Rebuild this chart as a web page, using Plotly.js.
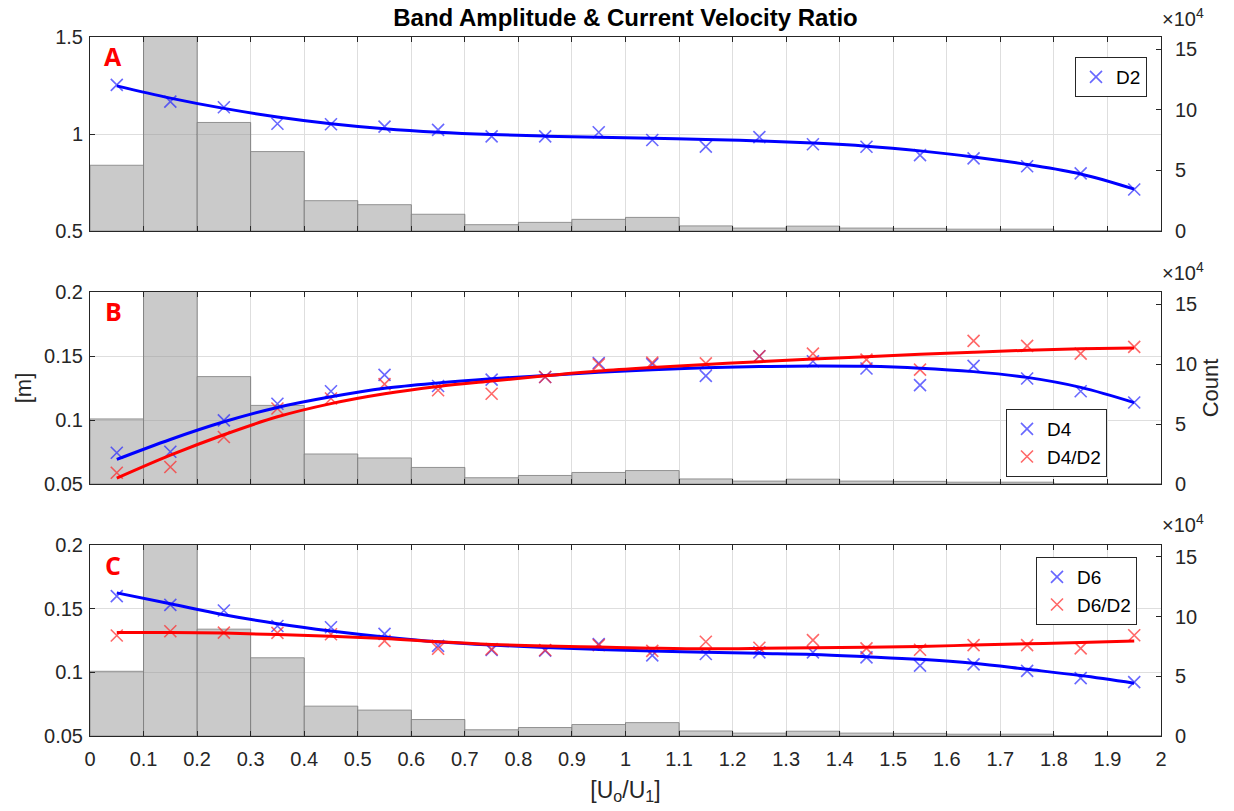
<!DOCTYPE html>
<html>
<head>
<meta charset="utf-8">
<script src="https://cdn.plot.ly/plotly-3.0.1.min.js"></script>
<style>html,body{margin:0;padding:0;background:#fff;}#chart{width:1234px;height:811px;}</style>
</head>
<body>
<div id="chart"></div>
<script>
// ---- data ----
const xCenters = [0.05,0.15,0.25,0.35,0.45,0.55,0.65,0.75,0.85,0.95,1.05,1.15,1.25,1.35,1.45,1.55,1.65,1.75,1.85,1.95];
const binCounts = [54200,190000,89500,65500,25000,21700,13800,5200,7100,9600,11200,4200,2400,4000,2400,2200,1500,1500,400,100];

const d2    = [1.253,1.167,1.138,1.053,1.050,1.038,1.021,0.988,0.988,1.009,0.969,0.935,0.984,0.947,0.934,0.891,0.874,0.834,0.797,0.714];
const d2Fit = [1.248,1.185,1.132,1.088,1.053,1.027,1.009,0.997,0.989,0.983,0.978,0.972,0.964,0.953,0.937,0.913,0.882,0.843,0.794,0.716];

const d4      = [0.0744,0.0752,0.0997,0.1127,0.1225,0.1353,0.1266,0.1315,0.1336,0.1445,0.1436,0.1345,0.1498,0.1459,0.1402,0.1272,0.1423,0.1324,0.1225,0.1137];
const d4Fit   = [0.0692,0.0848,0.0986,0.1098,0.1181,0.1248,0.1290,0.1322,0.1348,0.1373,0.1393,0.1408,0.1417,0.1422,0.1419,0.1405,0.1378,0.1333,0.1255,0.1136];
const d4d2    = [0.0588,0.0633,0.0867,0.1090,0.1168,0.1280,0.1232,0.1205,0.1336,0.1435,0.1448,0.1442,0.1498,0.1519,0.1472,0.1394,0.1618,0.1579,0.1519,0.1571];
const d4d2Fit = [0.0545,0.0725,0.0885,0.1025,0.1128,0.1205,0.1262,0.1305,0.1345,0.1382,0.1410,0.1434,0.1456,0.1476,0.1495,0.1513,0.1530,0.1545,0.1556,0.1562];

const d6      = [0.1598,0.1530,0.1486,0.1364,0.1354,0.1302,0.1208,0.1175,0.1170,0.1221,0.1133,0.1144,0.1157,0.1157,0.1118,0.1053,0.1063,0.1011,0.0954,0.0923];
const d6Fit   = [0.1624,0.1538,0.1452,0.1382,0.1325,0.1278,0.1240,0.1214,0.1195,0.1180,0.1167,0.1157,0.1149,0.1141,0.1123,0.1102,0.1071,0.1024,0.0975,0.0915];
const d6d2    = [0.1289,0.1323,0.1312,0.1310,0.1299,0.1247,0.1185,0.1182,0.1175,0.1214,0.1168,0.1240,0.1193,0.1253,0.1188,0.1177,0.1214,0.1214,0.1188,0.1291];
const d6d2Fit = [0.1312,0.1312,0.1308,0.1297,0.1284,0.1266,0.1240,0.1219,0.1206,0.1198,0.1190,0.1185,0.1188,0.1194,0.1197,0.1203,0.1214,0.1224,0.1234,0.1247];

const xTickVals = [0,0.1,0.2,0.3,0.4,0.5,0.6,0.7,0.8,0.9,1,1.1,1.2,1.3,1.4,1.5,1.6,1.7,1.8,1.9,2];
const xTickText = ['0','0.1','0.2','0.3','0.4','0.5','0.6','0.7','0.8','0.9','1','1.1','1.2','1.3','1.4','1.5','1.6','1.7','1.8','1.9','2'];
const countTickVals = [0,50000,100000,150000];
const countTickText = ['0','5','10','15'];
const yTicksA = [0.5,1,1.5];
const yTicksA_text = ['0.5','1','1.5'];
const yTicksBC = [0.05,0.1,0.15,0.2];
const yTicksBC_text = ['0.05','0.1','0.15','0.2'];

// ---- styles ----
const FONT = 'Liberation Sans, Arial, Helvetica, sans-serif';
const AX = '#262626';
const GRID = '#dedede';
const BLUE_M = 'rgba(40,40,255,0.7)';
const RED_M = 'rgba(255,40,40,0.7)';
const TICK = 20;

function bars(xa, ya) {
  return {type:'bar', x:xCenters, y:binCounts, width:0.1, xaxis:xa, yaxis:ya,
    marker:{color:'rgb(150,150,150)', line:{color:'rgb(40,40,40)', width:1}},
    opacity:0.5, showlegend:false, hoverinfo:'skip'};
}
function pts(y, color, name, xa, ya, leg) {
  return {type:'scatter', mode:'markers', x:xCenters, y:y, name:name, xaxis:xa, yaxis:ya, legend:leg,
    marker:{symbol:'x-thin', size:12, color:color, line:{color:color, width:1.6}}};
}
function fit(y, color, xa, ya) {
  return {type:'scatter', mode:'lines', x:xCenters, y:y, xaxis:xa, yaxis:ya, showlegend:false,
    line:{color:color, width:3, shape:'spline', smoothing:1}, hoverinfo:'skip'};
}

const data = [
  // Panel A (x2 / y3 count, y4 m)
  bars('x2','y3'),
  pts(d2, BLUE_M, 'D2', 'x2','y4','legend'),
  fit(d2Fit, '#0000ff', 'x2','y4'),
  // Panel B (x3 / y5 count, y6 m)
  bars('x3','y5'),
  pts(d4, BLUE_M, 'D4', 'x3','y6','legend2'),
  pts(d4d2, RED_M, 'D4/D2', 'x3','y6','legend2'),
  fit(d4Fit, '#0000ff', 'x3','y6'),
  fit(d4d2Fit, '#ff0000', 'x3','y6'),
  // Panel C (x / y count, y2 m)
  bars('x','y'),
  pts(d6, BLUE_M, 'D6', 'x','y2','legend3'),
  pts(d6d2, RED_M, 'D6/D2', 'x','y2','legend3'),
  fit(d6Fit, '#0000ff', 'x','y2'),
  fit(d6d2Fit, '#ff0000', 'x','y2')
];

const H = 811, T = 37, B = 75;
const PH = H - T - B;
function dom(topPx, botPx) { return [(H - B - botPx)/PH, (H - B - topPx)/PH]; }
function py(px) { return (H - B - px)/PH; }
function pxX(px) { return (px - 90)/1071; }

function xAxis(anchor, labels) {
  return {anchor:anchor, range:[0,2], tickvals:xTickVals, ticktext:xTickText, showticklabels:labels,
    ticks:'inside', ticklen:5, tickcolor:AX, showline:true, linecolor:AX, linewidth:1, mirror:'ticks',
    showgrid:true, gridcolor:GRID, zeroline:false, ticklabelstandoff:5, tickfont:{family:FONT, size:TICK, color:AX}};
}
function countAxis(domain, anchor, title) {
  return {domain:domain, anchor:anchor, side:'right', range:[0,160000], tickvals:countTickVals, ticktext:countTickText,
    ticks:'inside', ticklen:5, tickcolor:AX, showline:true, linecolor:AX, linewidth:1, showgrid:false, zeroline:false,
    ticklabelstandoff:9, tickfont:{family:FONT, size:TICK, color:AX},
    title:title ? {text:title, font:{family:FONT, size:22, color:AX}, standoff:6} : undefined};
}
function mAxis(overlay, anchor, range, tv, tt, title) {
  return {overlaying:overlay, anchor:anchor, side:'left', range:range, tickvals:tv, ticktext:tt,
    ticks:'inside', ticklen:5, tickcolor:AX, showline:true, linecolor:AX, linewidth:1, showgrid:true, gridcolor:GRID,
    zeroline:false, ticklabelstandoff:2, tickfont:{family:FONT, size:TICK, color:AX},
    title:title ? {text:title, font:{family:FONT, size:22, color:AX}, standoff:6} : undefined};
}

const xA = xAxis('y3', false);
const xB = xAxis('y5', false);
const xC = xAxis('y', true);
xC.title = {text:'[U<sub>o</sub>/U<sub>1</sub>]', font:{family:FONT, size:23, color:AX}, standoff:12};

const legStyle = {bgcolor:'#ffffff', bordercolor:AX, borderwidth:1, font:{family:FONT, size:19, color:'#000'}, xanchor:'right', yanchor:'top'};

const letterFont = {family:'Open Sans, sans-serif', size:25, color:'#ff0000'};
const expFont = {family:FONT, size:20, color:AX};

const layout = {
  width:1234, height:811,
  margin:{l:90, r:73, t:T, b:B},
  paper_bgcolor:'#ffffff', plot_bgcolor:'#ffffff',
  bargap:0,
  font:{family:FONT, color:AX},
  title:{text:'<b>Band Amplitude &amp; Current Velocity Ratio</b>', font:{family:FONT, size:24, color:'#000'},
    x:0.5, xref:'paper', y:1 - 18/H, yref:'container', yanchor:'middle'},
  xaxis:xC, xaxis2:xA, xaxis3:xB,
  yaxis: countAxis(dom(545,736), 'x'),
  yaxis2: mAxis('y', 'x', [0.05,0.2], yTicksBC, yTicksBC_text),
  yaxis3: countAxis(dom(37,231), 'x2'),
  yaxis4: mAxis('y3', 'x2', [0.5,1.5], yTicksA, yTicksA_text),
  yaxis5: countAxis(dom(292,484), 'x3', 'Count'),
  yaxis6: mAxis('y5', 'x3', [0.05,0.2], yTicksBC, yTicksBC_text, '[m]'),
  legend: Object.assign({x:pxX(1147), y:py(57)}, legStyle),
  legend2: Object.assign({x:pxX(1107), y:py(409)}, legStyle),
  legend3: Object.assign({x:pxX(1137), y:py(557)}, legStyle),
  annotations:[
    {text:'<b>A</b>', xref:'paper', yref:'paper', x:pxX(113), y:py(56), xanchor:'center', yanchor:'middle', showarrow:false, font:letterFont},
    {text:'<b>B</b>', xref:'paper', yref:'paper', x:pxX(113), y:py(311), xanchor:'center', yanchor:'middle', showarrow:false, font:letterFont},
    {text:'<b>C</b>', xref:'paper', yref:'paper', x:pxX(113), y:py(565), xanchor:'center', yanchor:'middle', showarrow:false, font:letterFont},
    {text:'×10<sup>4</sup>', xref:'paper', yref:'paper', x:pxX(1160), xanchor:'left', y:py(17), yanchor:'middle', showarrow:false, font:expFont},
    {text:'×10<sup>4</sup>', xref:'paper', yref:'paper', x:pxX(1160), xanchor:'left', y:py(271), yanchor:'middle', showarrow:false, font:expFont},
    {text:'×10<sup>4</sup>', xref:'paper', yref:'paper', x:pxX(1160), xanchor:'left', y:py(523), yanchor:'middle', showarrow:false, font:expFont}
  ]
};

Plotly.newPlot('chart', data, layout, {displayModeBar:false, staticPlot:true});
</script>
</body>
</html>
